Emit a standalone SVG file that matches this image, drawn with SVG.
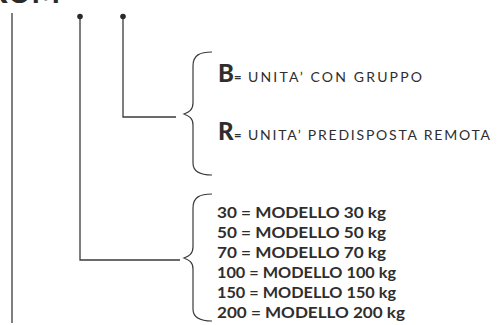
<svg xmlns="http://www.w3.org/2000/svg" width="497" height="325" viewBox="0 0 497 325">
<style>
.ln{fill:none;stroke:#3a3a3a;stroke-width:1.3}
.br{fill:none;stroke:#3a3a3a;stroke-width:1.2}
.dot{fill:#2a2a2a}
.big{font-family:"Lato","Liberation Sans",sans-serif;font-weight:900;font-size:24px;fill:#2e2e2e}
.eq{font-family:"Lato","Liberation Sans",sans-serif;font-weight:700;font-size:13px;fill:#2e2e2e}
.cap{font-family:"Lato","Liberation Sans",sans-serif;font-weight:400;font-size:14px;fill:#2e2e2e}
.row{font-family:"Lato","Liberation Sans",sans-serif;font-weight:700;font-size:16px;fill:#2e2e2e}
.title{font-family:"Lato","Liberation Sans",sans-serif;font-weight:900;font-size:30px;fill:#2a2a2a}
</style>
<text class="title" x="-12" y="3">ROM</text>
<g id="connectors">
<line class="ln" x1="12" y1="13" x2="12" y2="323"/>
<polyline class="ln" points="80,17 80,260 180,260"/>
<polyline class="ln" points="123,17 123,117 176,117"/>
</g>
<g id="dots">
<circle class="dot" cx="80" cy="16.5" r="2.8"/>
<circle class="dot" cx="123" cy="16.5" r="2.8"/>
</g>
<g id="brace-top">
<path class="br" d="M212,52 C200,52 193,55 193,66 L193,103 C193,110 189,112 184,114 C189,116 193,118 193,125 L193,163 C193,172 200,175 212,175"/>
</g>
<g id="brace-bottom">
<path class="br" d="M212,194 C200,194 193,197 193,208 L193,247 C193,254 189,256 184,258 C189,260 193,262 193,269 L193,309 C193,318 200,321 212,321"/>
</g>
<g id="node-B">
<text class="big" x="218" y="82">B</text>
<text class="eq" x="234" y="82">=</text>
<text class="cap" x="248" y="82" textLength="174" lengthAdjust="spacing">UNITA’ CON GRUPPO</text>
</g>
<g id="node-R">
<text class="big" x="218" y="140">R</text>
<text class="eq" x="234" y="140">=</text>
<text class="cap" x="248" y="140" textLength="242" lengthAdjust="spacing">UNITA’ PREDISPOSTA REMOTA</text>
</g>
<g id="node-models">
<text class="row" x="217" y="218" textLength="169" lengthAdjust="spacingAndGlyphs">30 = MODELLO 30 kg</text>
<text class="row" x="217" y="238" textLength="169" lengthAdjust="spacingAndGlyphs">50 = MODELLO 50 kg</text>
<text class="row" x="217" y="258" textLength="169" lengthAdjust="spacingAndGlyphs">70 = MODELLO 70 kg</text>
<text class="row" x="217" y="278" textLength="179" lengthAdjust="spacingAndGlyphs">100 = MODELLO 100 kg</text>
<text class="row" x="217" y="298" textLength="179" lengthAdjust="spacingAndGlyphs">150 = MODELLO 150 kg</text>
<text class="row" x="217" y="318" textLength="188" lengthAdjust="spacingAndGlyphs">200 = MODELLO 200 kg</text>
</g>
</svg>
